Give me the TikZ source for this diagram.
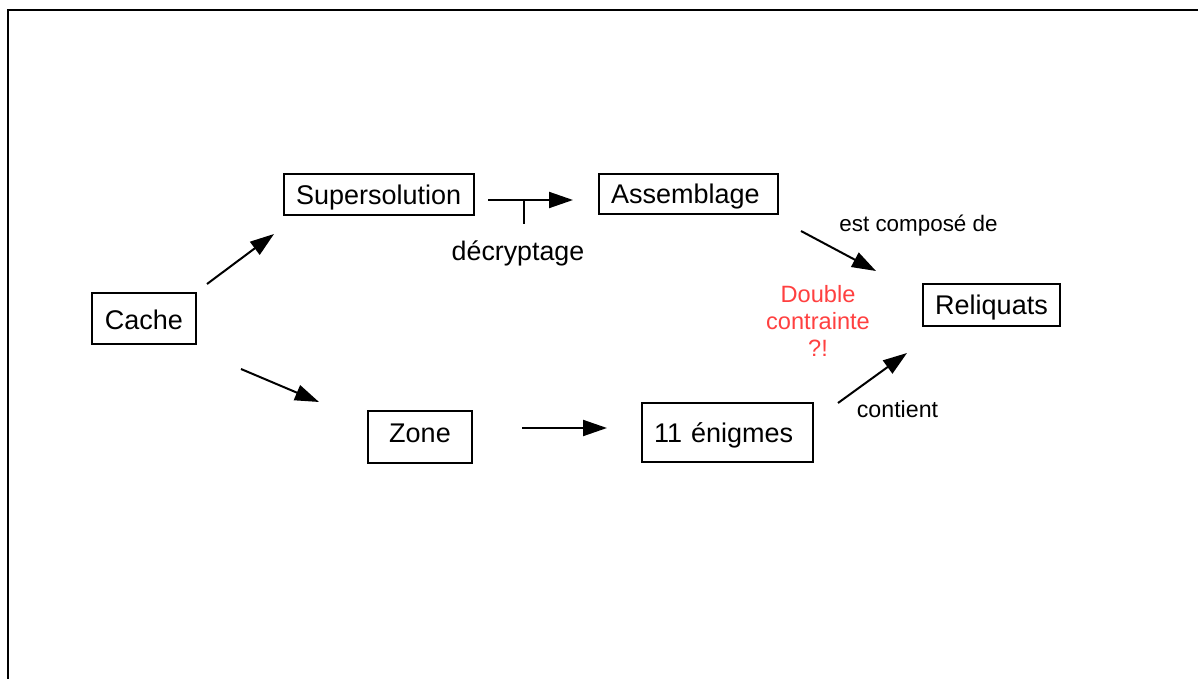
\documentclass[tikz,border=0pt]{standalone}
\usepackage{fontspec}
\setmainfont{Liberation Sans}
\usetikzlibrary{arrows.meta, positioning}
\definecolor{alertred}{RGB}{255, 64, 64}
\tikzstyle{box} = [rectangle, draw=black, line width=1pt, inner xsep=6pt, inner ysep=2pt, text height=9.7pt, text depth=0pt, align=left, font=\fontsize{13.5pt}{16pt}\selectfont]
\tikzstyle{arrow} = [line width=1pt, -{Triangle[length=12pt, width=8pt]}]
\tikzstyle{linktext} = [font=\fontsize{11.6pt}{13.5pt}\selectfont, anchor=base]

\begin{document}
\begin{tikzpicture}[x=0.5pt, y=-0.5pt]
    \useasboundingbox (0,0) rectangle (1198,679);
    % Frame
    \draw[line width=1pt] (1198,10) -- (8,10) -- (8,679);

    % Boxes
    \node[box, text width=40pt, minimum height=25.5pt, text height=11.2pt, align=center] (cache) at (144,318.5) {Cache};
    \node[box, text width=83pt, minimum height=20.5pt] (super) at (379,194.5) {Supersolution};
    \node[box, text width=77.5pt, minimum height=20pt] (assem) at (688.5,194) {Assemblage};
    \node[box, text width=40pt, minimum height=26pt, text depth=4.7pt, align=center] (zone) at (420,437) {Zone};
    \node[box, text width=73.5pt, minimum height=29.5pt] (enigmes) at (727.5,432.5) {11 énigmes};
    \node[box, text width=56.5pt, minimum height=21pt, align=center] (reliq) at (991.5,305) {Reliquats};

    % Arrow ends
    \coordinate (cacheUp) at (207,284);
    \coordinate (superIn) at (274,234);
    \coordinate (cacheDown) at (241,369);
    \coordinate (zoneIn) at (319,402);
    \coordinate (superOut) at (488,200);
    \coordinate (assemIn) at (573,200);
    \coordinate (tick) at (524,200);
    \coordinate (zoneOut) at (522,428);
    \coordinate (enigmesIn) at (607,428);
    \coordinate (assemOut) at (801,231);
    \coordinate (reliqTop) at (876,271);
    \coordinate (enigmesOut) at (838,403);
    \coordinate (reliqBottom) at (907,353);

    % Arrows
    \draw[arrow] (cacheUp) -- (superIn);
    \draw[arrow] (cacheDown) -- (zoneIn);
    \draw[arrow] (superOut) -- (assemIn);
    \draw[line width=1pt] (tick) -- ++(0,24);
    \draw[arrow] (zoneOut) -- (enigmesIn);
    \draw[arrow] (assemOut) -- (reliqTop);
    \draw[arrow] (enigmesOut) -- (reliqBottom);

    % Labels
    \node[anchor=base, font=\fontsize{13.4pt}{16pt}\selectfont] (decrypt) at (518,260) {décryptage};
    \node[linktext, font=\fontsize{11.2pt}{13.5pt}\selectfont] (compose) at (918.5,232) {est composé de};
    \node[linktext] (contient) at (897.5,417) {contient};
    \node[align=center, text=alertred, inner sep=0pt, font=\fontsize{11.8pt}{13.5pt}\selectfont] (double) at (818,321) {Double\\contrainte\\?!};
\end{tikzpicture}
\end{document}
